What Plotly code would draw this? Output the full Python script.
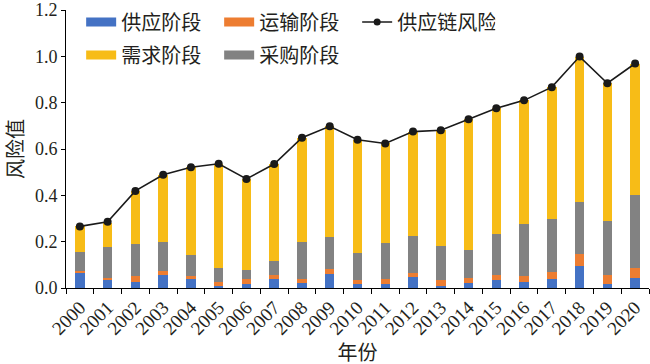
import plotly.graph_objects as go

years = [str(y) for y in range(2000, 2021)]
supply = [0.069, 0.033, 0.027, 0.056, 0.037, 0.010, 0.017, 0.039, 0.021, 0.059, 0.019,
          0.017, 0.047, 0.009, 0.021, 0.034, 0.027, 0.040, 0.096, 0.019, 0.044]
transport = [0.005, 0.010, 0.024, 0.017, 0.014, 0.016, 0.023, 0.015, 0.019, 0.021, 0.014,
             0.022, 0.017, 0.024, 0.023, 0.023, 0.024, 0.027, 0.051, 0.038, 0.042]
procurement = [0.081, 0.136, 0.139, 0.126, 0.091, 0.061, 0.039, 0.063, 0.157, 0.140, 0.119,
               0.156, 0.161, 0.149, 0.122, 0.176, 0.225, 0.229, 0.226, 0.232, 0.317]
demand = [0.111, 0.101, 0.229, 0.290, 0.379, 0.449, 0.392, 0.418, 0.452, 0.478, 0.488,
          0.429, 0.450, 0.499, 0.562, 0.543, 0.534, 0.571, 0.626, 0.595, 0.566]
risk = [0.266, 0.286, 0.419, 0.489, 0.521, 0.536, 0.471, 0.535, 0.649, 0.698, 0.640,
        0.624, 0.675, 0.681, 0.728, 0.776, 0.810, 0.867, 0.999, 0.884, 0.969]

names = ["供应阶段", "运输阶段", "采购阶段", "需求阶段"]
colors = {"供应阶段": "#4472C4", "运输阶段": "#ED7D31", "采购阶段": "#828282", "需求阶段": "#F7BC17"}
series = {"供应阶段": supply, "运输阶段": transport, "采购阶段": procurement, "需求阶段": demand}

FONT = "Liberation Serif, Noto Sans CJK SC, serif"
TXT = "#231F20"

fig = go.Figure()
for n in names:
    fig.add_trace(go.Bar(x=years, y=series[n], name=n, marker=dict(color=colors[n], line=dict(width=0)),
                         showlegend=False))
fig.add_trace(go.Scatter(x=years, y=risk, mode="lines+markers", name="供应链风险",
                         line=dict(color="#1A1A1A", width=1.6),
                         marker=dict(color="#1A1A1A", size=8), showlegend=False))

# legend proxies
row1 = [("供应阶段", "lines"), ("运输阶段", "lines"), ("供应链风险", "lines+markers")]
row2 = [("需求阶段", "lines"), ("采购阶段", "lines")]
for n, m in row1:
    if n == "供应链风险":
        fig.add_trace(go.Scatter(x=[None], y=[None], mode=m, name=n, legend="legend",
                                 line=dict(color="#1A1A1A", width=1.6),
                                 marker=dict(color="#1A1A1A", size=7)))
    else:
        fig.add_trace(go.Scatter(x=[None], y=[None], mode=m, name=n, legend="legend",
                                 line=dict(color=colors[n], width=9)))
for n, m in row2:
    fig.add_trace(go.Scatter(x=[None], y=[None], mode=m, name=n, legend="legend2",
                             line=dict(color=colors[n], width=9)))

legend_common = dict(orientation="h", xanchor="left", yanchor="middle", traceorder="normal",
                     font=dict(family=FONT, size=20, color=TXT),
                     entrywidth=93, entrywidthmode="pixels",
                     bgcolor="rgba(0,0,0,0)", itemwidth=30)

fig.update_layout(
    width=650, height=364,
    margin=dict(l=66, r=1, t=10, b=76),
    paper_bgcolor="white", plot_bgcolor="white",
    barmode="stack", bargap=0.66,
    font=dict(family=FONT, size=18, color=TXT),
    legend=dict(x=0.026, y=0.957, **legend_common),
    legend2=dict(x=0.026, y=0.838, **legend_common),
    xaxis=dict(type="category", showline=True, linecolor="black", linewidth=1,
               ticks="outside", ticklen=5, tickcolor="black", tickson="boundaries",
               tickangle=-45, tickfont=dict(family=FONT, size=19, color=TXT),
               range=[-0.5, 20.5],
               title=dict(text="年份", font=dict(family=FONT, size=20, color=TXT), standoff=8)),
    yaxis=dict(range=[0, 1.2], dtick=0.2, tickformat=".1f", showgrid=False, zeroline=False,
               showline=True, linecolor="black", linewidth=1, ticks="outside", ticklen=4,
               tickcolor="black", tickfont=dict(family=FONT, size=18, color=TXT),
               title=dict(text="风险值", font=dict(family=FONT, size=20, color=TXT), standoff=5)),
)

fig.write_html("out.html", config={"displayModeBar": False},
               post_script="document.body.style.margin='0';")
